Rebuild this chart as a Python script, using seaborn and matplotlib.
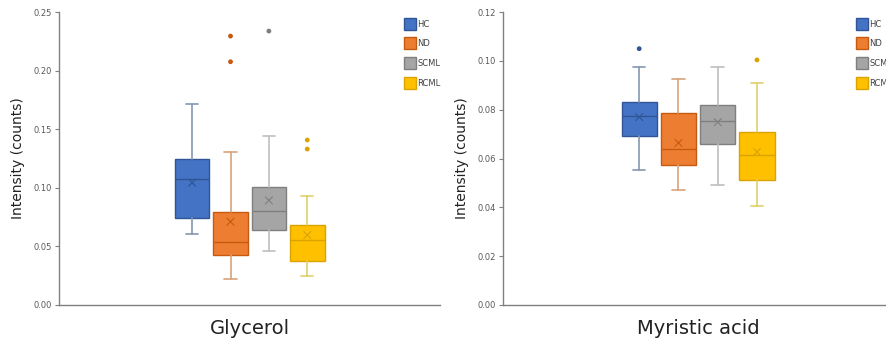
import matplotlib
matplotlib.use("Agg")
from matplotlib import pyplot as plt
from matplotlib.lines import Line2D
import numpy as np
import pandas as pd
import seaborn as sns

sns.set_theme(style="white")
plt.rcParams["font.family"] = ["DejaVu Sans"]

groups = ["HC", "ND", "SCML", "RCML"]
fills = ["#4472C4", "#ED7D31", "#A5A5A5", "#FFC000"]
edges = ["#2F5597", "#C55A11", "#7F7F7F", "#D9A300"]
whisk = ["#8497B0", "#D8A27A", "#BFBFBF", "#E2CF6A"]

# Glycerol: whislo, q1, median, q3, whishi, mean
gly_low = [0.0603, 0.0219, 0.0458, 0.0245]
gly_q1 = [0.0740, 0.0424, 0.0640, 0.0378]
gly_med = [0.1075, 0.0535, 0.0805, 0.0555]
gly_q3 = [0.1243, 0.0796, 0.1007, 0.0680]
gly_high = [0.1715, 0.1303, 0.1439, 0.0933]
gly_mean = [0.1044, 0.0711, 0.0893, 0.0597]
gly_out = [[], [0.2295, 0.2076], [0.2338], [0.1408, 0.1331]]

# Myristic acid
myr_low = [0.0554, 0.0471, 0.0493, 0.0405]
myr_q1 = [0.0691, 0.0573, 0.0658, 0.0514]
myr_med = [0.0773, 0.0640, 0.0754, 0.0616]
myr_q3 = [0.0833, 0.0788, 0.0820, 0.0709]
myr_high = [0.0976, 0.0924, 0.0976, 0.0911]
myr_mean = [0.0770, 0.0664, 0.0749, 0.0627]
myr_out = [[0.1050], [], [], [0.1004]]

gly_ticks = [0.00, 0.05, 0.10, 0.15, 0.20, 0.25]
myr_ticks = [0.00, 0.02, 0.04, 0.06, 0.08, 0.10, 0.12]


def draw_panel(ax, low, q1, med, q3, high, mean, out, ticks, title):
    for i, g in enumerate(groups):
        stats = [{"whislo": low[i], "q1": q1[i], "med": med[i], "q3": q3[i],
                  "whishi": high[i], "fliers": []}]
        ax.bxp(stats, positions=[i], widths=0.9, capwidths=0.32, patch_artist=True,
               showfliers=False, showmeans=False,
               boxprops={"facecolor": fills[i], "edgecolor": edges[i], "linewidth": 1.0},
               medianprops={"color": edges[i], "linewidth": 1.0},
               whiskerprops={"color": whisk[i], "linewidth": 1.2},
               capprops={"color": whisk[i], "linewidth": 1.2})
    mdf = pd.DataFrame({"pos": range(len(groups)), "val": mean, "grp": groups})
    sns.scatterplot(data=mdf, x="pos", y="val", hue="grp", palette=edges,
                    marker="x", s=30, linewidth=0.8, legend=False, ax=ax, zorder=5)
    opos = [i for i, o in enumerate(out) for _ in o]
    oval = [v for o in out for v in o]
    ogrp = [groups[i] for i in opos]
    if oval:
        odf = pd.DataFrame({"pos": opos, "val": oval, "grp": ogrp})
        sns.scatterplot(data=odf, x="pos", y="val", hue="grp",
                        palette={g: c for g, c in zip(groups, edges)},
                        s=12, linewidth=0, legend=False, ax=ax, zorder=5)
    ax.set_xlim(-3.47, 6.47)
    ax.set_ylim(ticks[0], ticks[-1])
    ax.set_yticks(ticks)
    ax.set_yticklabels([f"{t:.2f}" for t in ticks], fontsize=6, color="#595959")
    ax.set_xticks([])
    ax.set_xlabel(title, fontsize=14, color="#222222", labelpad=10)
    ax.set_ylabel("Intensity (counts)", fontsize=10, color="#222222", labelpad=6)
    ax.tick_params(axis="y", length=3, width=0.8, color="#808080", pad=2, left=True)
    sns.despine(ax=ax)
    for s in ["left", "bottom"]:
        ax.spines[s].set_color("#808080")
        ax.spines[s].set_linewidth(1.0)
    handles = [Line2D([], [], marker="s", linestyle="", markersize=8,
                      markerfacecolor=fills[i], markeredgecolor=edges[i], label=g)
               for i, g in enumerate(groups)]
    ax.legend(handles=handles, loc="upper left", bbox_to_anchor=(0.89, 1.0),
              frameon=False, fontsize=6, labelspacing=1.3, handlelength=1.0,
              handletextpad=0.4, labelcolor="#404040")


fig = plt.figure(figsize=(8.87, 3.45), dpi=100)
ax1 = fig.add_axes([0.0665, 0.116, 0.43, 0.849])
ax2 = fig.add_axes([0.567, 0.116, 0.44, 0.849])

draw_panel(ax1, gly_low, gly_q1, gly_med, gly_q3, gly_high, gly_mean, gly_out,
           gly_ticks, "Glycerol")
draw_panel(ax2, myr_low, myr_q1, myr_med, myr_q3, myr_high, myr_mean, myr_out,
           myr_ticks, "Myristic acid")

plt.savefig("out.png", dpi=100)
